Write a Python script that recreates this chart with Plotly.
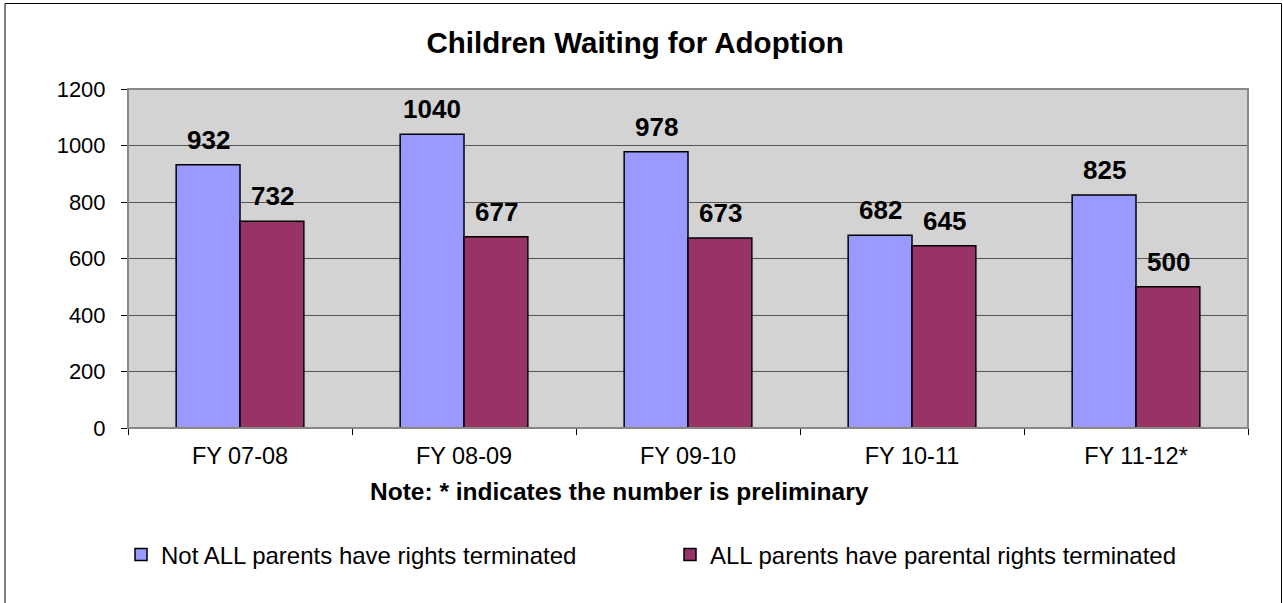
# bar chart of children waiting for adoption, by fiscal year

import plotly.graph_objects as go

categories = ['FY 07-08', 'FY 08-09', 'FY 09-10', 'FY 10-11', 'FY 11-12*']
not_all_terminated = [932, 1040, 978, 682, 825]
all_terminated = [732, 677, 673, 645, 500]
series_names = ['Not ALL parents have rights terminated',
                'ALL parents have parental rights terminated']
series_colors = ['#9999FF', '#993366']
y_ticks = [0, 200, 400, 600, 800, 1000, 1200]

W, H = 1283, 603
L, R, T, B = 128, 35, 89, 175  # margins in px
plot_w = W - L - R
plot_h = H - T - B

def px_x(px):
    '''pixel x -> paper x'''
    return (px - L) / plot_w

def px_y(py):
    '''pixel y (from top) -> paper y'''
    return (H - B - py) / plot_h

fig = go.Figure()
for name, vals, col in zip(series_names, [not_all_terminated, all_terminated], series_colors):
    fig.add_trace(go.Bar(
        x=categories, y=vals, name=name,
        marker=dict(color=col, line=dict(color='black', width=1.5)),
        offsetgroup=name,
    ))

# value labels above each bar
label_font = dict(family='Arial, Liberation Sans', size=26, color='black')
for i, vals in enumerate([not_all_terminated, all_terminated]):
    shift = -32 if i == 0 else 32
    for c, v in zip(categories, vals):
        fig.add_annotation(x=c, y=v, text=f'<b>{v}</b>', showarrow=False,
                           yanchor='bottom', xshift=shift, yshift=8, font=label_font)

# note under the axis
fig.add_annotation(xref='paper', yref='paper', x=px_x(619), y=px_y(491),
                   text='<b>Note: * indicates the number is preliminary</b>',
                   showarrow=False, xanchor='center', yanchor='middle',
                   font=dict(family='Arial, Liberation Sans', size=24.5, color='black'))

# plot area border and outer frame (bottom edge falls just off the page)
fig.add_shape(type='rect', xref='paper', yref='paper', x0=0, x1=1, y0=0, y1=1,
              line=dict(color='#888888', width=2), layer='above')
fig.add_shape(type='rect', xref='paper', yref='paper',
              x0=px_x(5), x1=px_x(1281.5), y0=px_y(606), y1=px_y(3.5),
              line=dict(color='black', width=1), layer='above')

fig.update_layout(
    width=W, height=H,
    margin=dict(l=L, r=R, t=T, b=B),
    paper_bgcolor='white', plot_bgcolor='#D3D3D3',
    font=dict(family='Arial, Liberation Sans', color='black'),
    title=dict(text='<b>Children Waiting for Adoption</b>', x=0.495, xanchor='center',
               y=1 - 43 / H, yanchor='middle', font=dict(size=29.5)),
    barmode='group', bargap=0.43, bargroupgap=0,
    showlegend=True,
    legend=dict(orientation='h', x=px_x(121), y=px_y(555), xanchor='left', yanchor='middle',
                font=dict(size=24), entrywidth=504, traceorder='normal',
                bgcolor='rgba(0,0,0,0)'),
    xaxis=dict(showline=True, linecolor='black', linewidth=1, ticks='outside',
               tickson='boundaries', ticklen=6, tickcolor='black',
               tickfont=dict(size=23.5), ticklabelstandoff=7, showgrid=False),
    yaxis=dict(range=[0, 1200], tickvals=y_ticks, showline=True, linecolor='black',
               linewidth=1, ticks='outside', ticklen=6, tickcolor='black',
               tickfont=dict(size=22), ticklabelstandoff=11,
               showgrid=True, gridcolor='#555555', gridwidth=1, zeroline=False),
)

# drop the default page margin so the figure sits at the window corner
fig.write_html('out.html', config={'displayModeBar': False},
               post_script="document.body.style.margin='0px';")
